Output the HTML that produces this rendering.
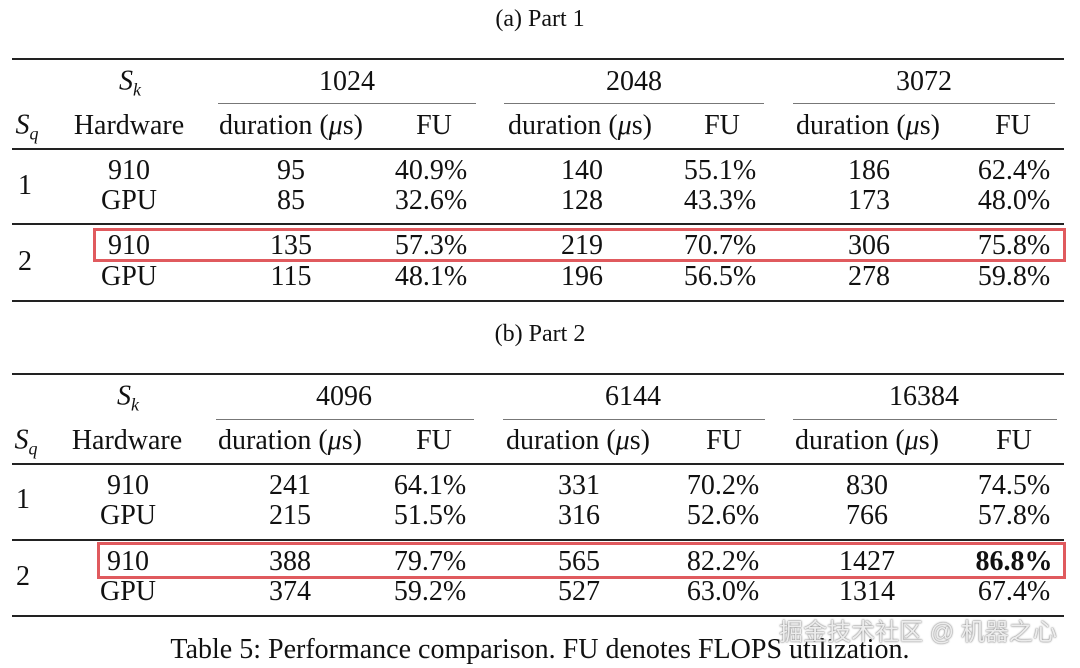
<!DOCTYPE html>
<html><head><meta charset="utf-8"><style>
body{margin:0;width:1080px;height:668px;background:#fff;position:relative;overflow:hidden;font-family:"Liberation Serif",serif;font-size:28px;color:#111}
.t{position:absolute;transform:translate(-50%,-50%);white-space:nowrap;line-height:1}
.r{position:absolute;background:#222}
.box{position:absolute;border:3px solid #e05a5e;box-sizing:border-box}
i{font-style:italic}
sub{font-size:18px;vertical-align:-6px;font-style:italic}
</style></head><body>
<div class="t" style="left:540px;top:19px;font-size:24px">(a) Part 1</div>
<div class="r" style="left:12px;top:58px;width:1052px;height:2px"></div>
<div class="r" style="left:218px;top:103px;width:258px;height:1px;background:#777"></div>
<div class="r" style="left:504px;top:103px;width:260px;height:1px;background:#777"></div>
<div class="r" style="left:793px;top:103px;width:262px;height:1px;background:#777"></div>
<div class="r" style="left:12px;top:148px;width:1052px;height:1.5px"></div>
<div class="r" style="left:12px;top:223px;width:1052px;height:1.5px"></div>
<div class="r" style="left:12px;top:300px;width:1052px;height:2px"></div>
<div class="box" style="left:93px;top:228px;width:973px;height:34px"></div>
<div class="t" style="left:130px;top:83px"><i>S</i><sub>k</sub></div>
<div class="t" style="left:347px;top:82px">1024</div>
<div class="t" style="left:634px;top:82px">2048</div>
<div class="t" style="left:924px;top:82px">3072</div>
<div class="t" style="left:27px;top:127px"><i>S</i><sub>q</sub></div>
<div class="t" style="left:129px;top:126px">Hardware</div>
<div class="t" style="left:291px;top:126px">duration (<i>μ</i>s)</div>
<div class="t" style="left:434px;top:126px">FU</div>
<div class="t" style="left:580px;top:126px">duration (<i>μ</i>s)</div>
<div class="t" style="left:722px;top:126px">FU</div>
<div class="t" style="left:868px;top:126px">duration (<i>μ</i>s)</div>
<div class="t" style="left:1013px;top:126px">FU</div>
<div class="t" style="left:25px;top:186px">1</div>
<div class="t" style="left:25px;top:262px">2</div>
<div class="t" style="left:129px;top:171px">910</div><div class="t" style="left:291px;top:171px">95</div><div class="t" style="left:431px;top:171px">40.9%</div><div class="t" style="left:582px;top:171px">140</div><div class="t" style="left:720px;top:171px">55.1%</div><div class="t" style="left:869px;top:171px">186</div><div class="t" style="left:1014px;top:171px">62.4%</div>
<div class="t" style="left:129px;top:201px">GPU</div><div class="t" style="left:291px;top:201px">85</div><div class="t" style="left:431px;top:201px">32.6%</div><div class="t" style="left:582px;top:201px">128</div><div class="t" style="left:720px;top:201px">43.3%</div><div class="t" style="left:869px;top:201px">173</div><div class="t" style="left:1014px;top:201px">48.0%</div>
<div class="t" style="left:129px;top:246px">910</div><div class="t" style="left:291px;top:246px">135</div><div class="t" style="left:431px;top:246px">57.3%</div><div class="t" style="left:582px;top:246px">219</div><div class="t" style="left:720px;top:246px">70.7%</div><div class="t" style="left:869px;top:246px">306</div><div class="t" style="left:1014px;top:246px">75.8%</div>
<div class="t" style="left:129px;top:277px">GPU</div><div class="t" style="left:291px;top:277px">115</div><div class="t" style="left:431px;top:277px">48.1%</div><div class="t" style="left:582px;top:277px">196</div><div class="t" style="left:720px;top:277px">56.5%</div><div class="t" style="left:869px;top:277px">278</div><div class="t" style="left:1014px;top:277px">59.8%</div>

<div class="t" style="left:540px;top:334px;font-size:24px">(b) Part 2</div>
<div class="r" style="left:12px;top:373px;width:1052px;height:2px"></div>
<div class="r" style="left:216px;top:419px;width:258px;height:1px;background:#777"></div>
<div class="r" style="left:503px;top:419px;width:262px;height:1px;background:#777"></div>
<div class="r" style="left:793px;top:419px;width:264px;height:1px;background:#777"></div>
<div class="r" style="left:12px;top:463px;width:1052px;height:1.5px"></div>
<div class="r" style="left:12px;top:539px;width:1052px;height:1.5px"></div>
<div class="r" style="left:12px;top:615px;width:1052px;height:2px"></div>
<div class="box" style="left:97px;top:542px;width:969px;height:37px"></div>
<div class="t" style="left:128px;top:398px"><i>S</i><sub>k</sub></div>
<div class="t" style="left:344px;top:397px">4096</div>
<div class="t" style="left:633px;top:397px">6144</div>
<div class="t" style="left:924px;top:397px">16384</div>
<div class="t" style="left:26px;top:442px"><i>S</i><sub>q</sub></div>
<div class="t" style="left:127px;top:441px">Hardware</div>
<div class="t" style="left:290px;top:441px">duration (<i>μ</i>s)</div>
<div class="t" style="left:434px;top:441px">FU</div>
<div class="t" style="left:578px;top:441px">duration (<i>μ</i>s)</div>
<div class="t" style="left:724px;top:441px">FU</div>
<div class="t" style="left:867px;top:441px">duration (<i>μ</i>s)</div>
<div class="t" style="left:1014px;top:441px">FU</div>
<div class="t" style="left:23px;top:500px">1</div>
<div class="t" style="left:23px;top:577px">2</div>
<div class="t" style="left:128px;top:486px">910</div><div class="t" style="left:290px;top:486px">241</div><div class="t" style="left:430px;top:486px">64.1%</div><div class="t" style="left:579px;top:486px">331</div><div class="t" style="left:723px;top:486px">70.2%</div><div class="t" style="left:867px;top:486px">830</div><div class="t" style="left:1014px;top:486px">74.5%</div>
<div class="t" style="left:128px;top:516px">GPU</div><div class="t" style="left:290px;top:516px">215</div><div class="t" style="left:430px;top:516px">51.5%</div><div class="t" style="left:579px;top:516px">316</div><div class="t" style="left:723px;top:516px">52.6%</div><div class="t" style="left:867px;top:516px">766</div><div class="t" style="left:1014px;top:516px">57.8%</div>
<div class="t" style="left:128px;top:562px">910</div><div class="t" style="left:290px;top:562px">388</div><div class="t" style="left:430px;top:562px">79.7%</div><div class="t" style="left:579px;top:562px">565</div><div class="t" style="left:723px;top:562px">82.2%</div><div class="t" style="left:867px;top:562px">1427</div><div class="t" style="left:1014px;top:562px;font-weight:bold">86.8%</div>
<div class="t" style="left:128px;top:592px">GPU</div><div class="t" style="left:290px;top:592px">374</div><div class="t" style="left:430px;top:592px">59.2%</div><div class="t" style="left:579px;top:592px">527</div><div class="t" style="left:723px;top:592px">63.0%</div><div class="t" style="left:867px;top:592px">1314</div><div class="t" style="left:1014px;top:592px">67.4%</div>

<div class="t" style="left:540px;top:650px;font-size:28px">Table 5: Performance comparison. FU denotes FLOPS utilization.</div>
<div class="t" style="left:918px;top:633px;font-family:'Liberation Sans','Noto Sans CJK SC',sans-serif;font-size:24px;color:rgba(255,255,255,0.85);text-shadow:0 0 2px #888,0 0 1px #666">掘金技术社区 @ 机器之心</div>
</body></html>
